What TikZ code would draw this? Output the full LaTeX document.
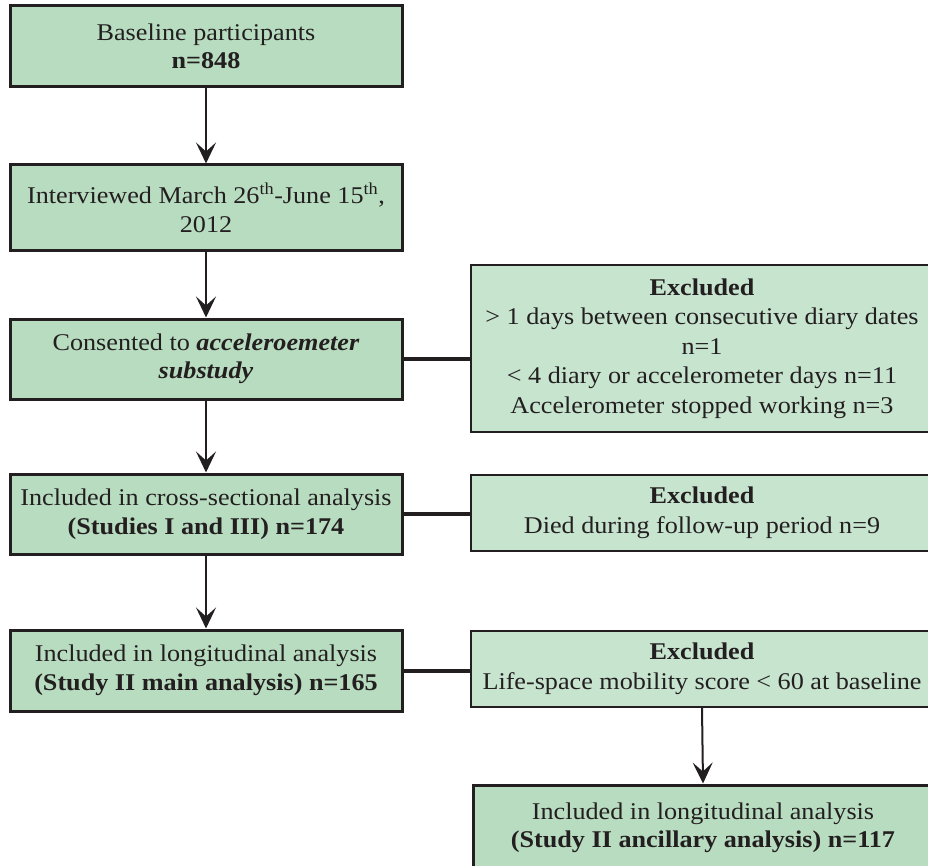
\documentclass[tikz,border=0pt]{standalone}
\usepackage{fontspec}
\setmainfont{Liberation Serif}[FakeStretch=1.09]
\usetikzlibrary{arrows.meta}
\definecolor{ink}{HTML}{231F20}
\definecolor{mainfill}{HTML}{B8DCC0}
\definecolor{exclfill}{HTML}{C7E4CF}
\tikzset{
  flowbox/.style={draw=ink, fill=mainfill, line width=3pt, align=center,
    text=ink, inner sep=0pt, minimum width=392pt},
  exclbox/.style={draw=ink, fill=exclfill, line width=1.6pt, align=center,
    text=ink, inner sep=0pt, minimum width=462pt},
  flowarrow/.style={draw=ink, line width=2pt,
    -{Stealth[length=21pt,width=20pt,inset=9pt]}},
  sidelink/.style={draw=ink, line width=4pt},
}
\begin{document}
\begin{tikzpicture}[x=1pt,y=-1pt,
  every node/.append style={font=\fontsize{24}{28.5}\selectfont}]
\clip (0,0) rectangle (928,866);
\useasboundingbox (0,0) rectangle (928,866);

% main column
\node[flowbox, minimum height=81pt] (base) at (206,46.5)
  {Baseline participants\\ \textbf{n=848}};
\node[flowbox, minimum height=86pt] (intv) at (206,208)
  {Interviewed March 26\textsuperscript{th}-June 15\textsuperscript{th},\\ 2012};
\node[flowbox, minimum height=80pt] (cons) at (206,359)
  {Consented to \textbf{\textit{acceleroemeter}}\\ \textbf{\textit{substudy}}};
\node[flowbox, minimum height=80pt] (cross) at (206,514)
  {Included in cross-sectional analysis\\ \textbf{(Studies I and III) n=174}};
\node[flowbox, minimum height=81pt] (longi) at (206,670.5)
  {Included in longitudinal analysis\\ \textbf{(Study II main analysis) n=165}};

% exclusion column
\node[exclbox, minimum height=167pt, font=\fontsize{24}{29.5}\selectfont] (ex1) at (702,348.5)
  {\textbf{Excluded}\\ > 1 days between consecutive diary dates\\ n=1\\
   < 4 diary or accelerometer days n=11\\ Accelerometer stopped working n=3};
\node[exclbox, minimum height=76pt, font=\fontsize{24}{29.5}\selectfont] (ex2) at (702,513)
  {\textbf{Excluded}\\ Died during follow-up period n=9};
\node[exclbox, minimum height=76pt, font=\fontsize{24}{29.5}\selectfont] (ex3) at (702,669)
  {\textbf{Excluded}\\ Life-space mobility score < 60 at baseline};
\node[flowbox, minimum width=460pt, minimum height=86pt] (anc) at (703,828)
  {Included in longitudinal analysis\\ \textbf{(Study II ancillary analysis) n=117}};

% connectors
\draw[flowarrow] (base.south) -- (intv.north);
\draw[flowarrow] (intv.south) -- (cons.north);
\draw[flowarrow] (cons.south) -- (cross.north);
\draw[flowarrow] (cross.south) -- (longi.north);
\draw[flowarrow] (ex3.south) -- (anc.north);
\draw[sidelink] (cons.east) -- (cons.east -| ex1.west);
\draw[sidelink] (cross.east) -- (cross.east -| ex2.west);
\draw[sidelink] (longi.east) -- (longi.east -| ex3.west);
\end{tikzpicture}
\end{document}
